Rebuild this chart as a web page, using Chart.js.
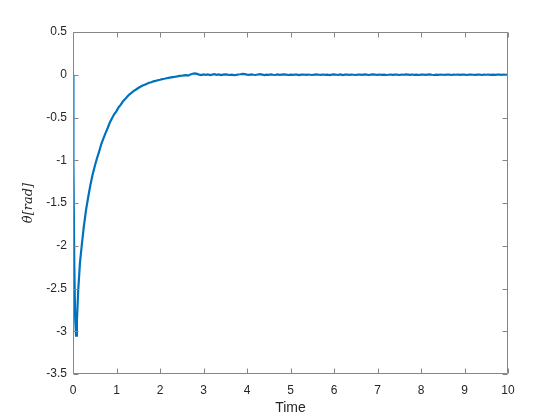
<!DOCTYPE html>
<html><head><meta charset="utf-8">
<script src="https://cdn.jsdelivr.net/npm/chart.js@4"></script>
<style>html,body{margin:0;padding:0;background:#fff}#c{display:block}</style>
</head><body>
<canvas id="c" width="560" height="420"></canvas>
<script>
// ---- data ----
const earlyTime = [0,0.01,0.03,0.05,0.07,0.09,0.12,0.16,0.2,0.25,0.3,0.35,0.4,0.45,0.5,0.55,0.6,0.65,0.7,0.75,0.8,0.85,0.9,0.95,1.0,1.05,1.1,1.15,1.2,1.25,1.3,1.35,1.4,1.45,1.5,1.55,1.6,1.65,1.7,1.75,1.8,1.85,1.9,1.95,2.0,2.05,2.1,2.15,2.2,2.25,2.3,2.35,2.4,2.45];
const earlyTheta = [0,-1.05,-2.25,-2.85,-3.05,-2.88,-2.52,-2.2,-2.0,-1.77,-1.58,-1.43,-1.29,-1.17,-1.07,-0.98,-0.9,-0.81,-0.745,-0.68,-0.62,-0.555,-0.505,-0.46,-0.425,-0.38,-0.35,-0.31,-0.285,-0.255,-0.228,-0.21,-0.188,-0.172,-0.155,-0.14,-0.127,-0.116,-0.106,-0.094,-0.087,-0.077,-0.071,-0.064,-0.058,-0.051,-0.047,-0.041,-0.036,-0.031,-0.027,-0.023,-0.019,-0.014];
const tailStart = 2.5, tailStep = 0.05;
const tailTheta = [
 -0.012,-0.008,-0.004,-0.010,0.004,0.012,0.016,0.010,0.002,-0.004,
 0.003,-0.002,0.004,-0.003,0.002,0.006,-0.002,0.003,-0.004,0.002,
 0.005,0.001,-0.003,0.002,-0.004,-0.001,0.003,0.006,0.010,0.007,
 0.002,-0.002,0.004,0.000,-0.003,0.003,0.006,0.001,-0.004,0.002,
 -0.001,0.004,0.000,-0.003,0.003,-0.002,0.002,0.005,0.001,-0.003,
 0.002,-0.002,0.003,0.001,-0.004,0.001,0.003,-0.002,0.002,0.000,
 -0.003,0.002,0.004,0.000,-0.002,0.003,-0.001,0.002,-0.004,0.001,
 0.004,0.000,-0.002,0.003,-0.003,0.001,0.002,-0.002,0.003,0.000,
 -0.003,0.002,0.001,-0.002,0.004,0.001,-0.003,0.002,0.005,0.001,
 -0.002,0.003,-0.001,0.002,-0.003,0.000,0.003,-0.002,0.002,0.001,
 -0.003,0.002,0.000,0.004,0.001,-0.002,0.003,-0.001,0.002,-0.003,
 0.001,0.003,-0.002,0.001,0.004,0.000,-0.003,0.002,-0.001,0.003,
 0.000,-0.002,0.003,0.001,-0.003,0.002,0.000,0.003,-0.002,0.001,
 0.002,-0.003,0.001,0.003,0.000,-0.002,0.002,0.001,-0.003,0.002,
 0.000,0.003,-0.001,0.002,-0.002,0.001,0.003,-0.002,0.001,0.000,
 0.001
];
const xTicks = [0,1,2,3,4,5,6,7,8,9,10];
const yTicks = [-3.5,-3,-2.5,-2,-1.5,-1,-0.5,0,0.5];
const xLabel = 'Time';
const yLabel = 'θ̇[rad]';

const points = earlyTime.map((t,i)=>({x:t,y:earlyTheta[i]}))
  .concat(tailTheta.map((v,i)=>({x:+(tailStart+i*tailStep).toFixed(2),y:v})));

const boxPlugin = {
  id:'box',
  afterDraw(chart){
    const {ctx, chartArea:a, scales:{x,y}} = chart;
    ctx.save();
    ctx.strokeStyle = '#868686';
    ctx.lineWidth = 1;
    const L = Math.round(a.left)+0.5, R = Math.round(a.right)-0.5, T = Math.round(a.top)+0.5, B = Math.round(a.bottom)-0.5;
    ctx.beginPath();
    ctx.rect(L, T, R-L, B-T);
    const tl = 5;
    xTicks.forEach(v=>{
      const px = Math.round(x.getPixelForValue(v))+0.5;
      ctx.moveTo(px,B); ctx.lineTo(px,B-tl);
      ctx.moveTo(px,T); ctx.lineTo(px,T+tl);
    });
    yTicks.forEach(v=>{
      const py = Math.round(y.getPixelForValue(v))+0.5;
      ctx.moveTo(L,py); ctx.lineTo(L+tl,py);
      ctx.moveTo(R,py); ctx.lineTo(R-tl,py);
    });
    ctx.stroke();
    ctx.restore();
  }
};

new Chart(document.getElementById('c'), {
  type:'line',
  data:{datasets:[{data:points,borderColor:'#0072BD',borderWidth:2.2,pointRadius:0,tension:0,fill:false}]},
  options:{
    responsive:false, animation:false, devicePixelRatio:1,
    layout:{padding:{left:0,top:32,right:52,bottom:0}},
    plugins:{legend:{display:false},tooltip:{enabled:false}},
    scales:{
      x:{type:'linear',min:0,max:10,
        afterBuildTicks:s=>{s.ticks=xTicks.map(v=>({value:v}));},
        afterFit:s=>{s.height=46;},
        grid:{display:false,drawTicks:false},border:{display:false},
        ticks:{padding:9,color:'#262626',font:{family:'Liberation Sans, Arial',size:12},maxRotation:0,callback:v=>String(v)},
        title:{display:true,text:xLabel,color:'#262626',font:{family:'Liberation Sans, Arial',size:14},padding:{top:0,bottom:3}}
      },
      y:{type:'linear',min:-3.5,max:0.5,
        afterBuildTicks:s=>{s.ticks=yTicks.map(v=>({value:v}));},
        afterFit:s=>{s.width=73;},
        grid:{display:false,drawTicks:false},border:{display:false},
        ticks:{padding:6,color:'#262626',font:{family:'Liberation Sans, Arial',size:12},callback:v=>String(v)},
        title:{display:true,text:yLabel,color:'#262626',font:{family:'DejaVu Serif',size:13,style:'italic'},padding:{top:21,bottom:0}}
      }
    }
  },
  plugins:[boxPlugin]
});
</script>
</body></html>
